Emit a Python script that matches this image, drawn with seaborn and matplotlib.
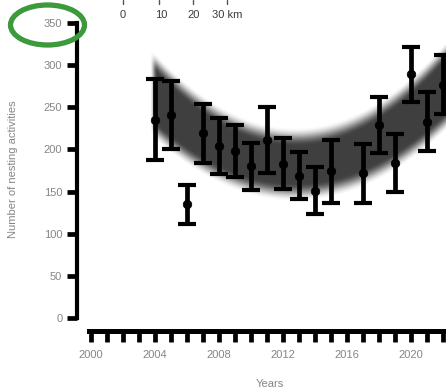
import numpy as np
import pandas as pd
import matplotlib
matplotlib.use("Agg")
import matplotlib.pyplot as plt
from matplotlib.patches import Ellipse
from matplotlib.lines import Line2D
from matplotlib.ticker import FixedLocator
import seaborn as sns

# Yearly counts of nesting activities (mean and error half-width)
years = [2004, 2005, 2006, 2007, 2008, 2009, 2010, 2011, 2012,
         2013, 2014, 2015, 2017, 2018, 2019, 2020, 2021, 2022]
nests = [235, 241, 135, 219, 204, 198, 180, 211, 183,
         169, 151, 174, 172, 229, 184, 289, 233, 277]
errors = [48, 40, 23, 35, 33, 31, 28, 39, 30,
          28, 28, 37, 35, 33, 34, 33, 35, 35]

# Quadratic trend and its confidence band
trend_vertex_year = 2012.8
trend_min = 182.0
trend_curv = 1.05
band_hw0 = 33.0
band_hw_curv = 0.10
band_start = 2003.7

y_ticks = [0, 50, 100, 150, 200, 250, 300, 350]
x_labelled = [2000, 2004, 2008, 2012, 2016, 2020]
scale_labels = ["0", "10", "20", "30 km"]

df = pd.DataFrame({"year": years, "nests": nests, "err": errors})

sns.set_theme(style="white")
plt.rcParams["font.family"] = ["Liberation Sans", "DejaVu Sans"]

W, H = 446, 392
fig = plt.figure(figsize=(W / 100, H / 100), dpi=100)
px_per_year = 16.0
px_per_unit = 295.0 / 350.0
x0, x1 = 1999.125, 2030.0
y1 = 370.0
ax = fig.add_axes([77 / W, 74 / H, (x1 - x0) * px_per_year / W,
                   y1 * px_per_unit / H])
ax.set_xlim(x0, x1)
ax.set_ylim(0, y1)

# Soft-edged trend band rendered as an RGBA image in data coordinates
tt = np.linspace(2003.4, 2023.0, 500)
vv = np.linspace(0, y1, 600)
T, V = np.meshgrid(tt, vv)
center = trend_min + trend_curv * (T - trend_vertex_year) ** 2
hw = band_hw0 + band_hw_curv * (T - trend_vertex_year) ** 2
soft = 11.0
a = np.clip((hw + soft - np.abs(V - center)) / (2 * soft), 0, 1)
a = a * a * (3 - 2 * a)
fade = np.clip((T - band_start) / 0.45, 0, 1)
a = a * fade * fade * (3 - 2 * fade)
img = np.zeros(a.shape + (4,))
img[..., :3] = 0.25
img[..., 3] = a
ax.imshow(img, extent=[tt[0], tt[-1], 0, y1], origin="lower",
          aspect="auto", interpolation="bilinear", zorder=1)

ax.errorbar(df["year"], df["nests"], yerr=df["err"], fmt="none",
            ecolor="black", elinewidth=3.4, capsize=6.8, capthick=3.0,
            zorder=3)
sns.scatterplot(data=df, x="year", y="nests", ax=ax, color="black",
                s=38, marker="o", edgecolor="black", linewidth=0.5,
                zorder=4, legend=False)

# Axes styling: detached bold spines
for s in ["top", "right"]:
    ax.spines[s].set_visible(False)
ax.spines["left"].set_linewidth(3.0)
ax.spines["bottom"].set_linewidth(3.6)
ax.spines["left"].set_color("black")
ax.spines["bottom"].set_color("black")
ax.spines["left"].set_bounds(0, 350)
ax.spines["bottom"].set_bounds(1999.9, x1)
ax.spines["bottom"].set_position(("outward", 9.4))

ax.set_yticks(y_ticks)
ax.set_xticks(x_labelled)
ax.xaxis.set_minor_locator(FixedLocator(
    [y for y in range(2000, 2031) if y not in x_labelled]))
ax.tick_params(axis="y", left=True, length=7.2, width=3.4, color="black",
               labelcolor="#858585", labelsize=8, pad=3.4)
ax.tick_params(axis="x", which="both", bottom=True, length=7.6, width=3.4,
               color="black", labelcolor="#858585", labelsize=8, pad=6.0)

ax.set_ylabel("Number of nesting activities", fontsize=8, color="#858585")
ax.set_xlabel("Years", fontsize=8, color="#858585")
axw = (x1 - x0) * px_per_year
axh = y1 * px_per_unit
ax.yaxis.set_label_coords((18 - 77) / axw, (318 - 169) / axh)
ax.xaxis.set_label_coords((270 - 77) / axw, (318 - 379) / axh)

# Map scale bar along the top edge
for lab, xp in zip(scale_labels, [123, 161, 194, 227]):
    fig.text(xp / W, 1 - 15 / H, lab, ha="center", va="center",
             fontsize=8, color="#3a3a3a")
for xp in [123, 159, 193, 227]:
    fig.add_artist(Line2D([xp / W, xp / W], [1, 1 - 4 / H],
                          transform=fig.transFigure, color="#555555",
                          lw=1.0))

# Highlight ring around the top y tick label
fig.add_artist(Ellipse((47.5 / W, 1 - 25 / H), 74 / W, 40 / H,
                       transform=fig.transFigure, fill=False,
                       edgecolor="#3c9a3c", linewidth=3.8, zorder=10))

fig.savefig("out.png", dpi=100)
